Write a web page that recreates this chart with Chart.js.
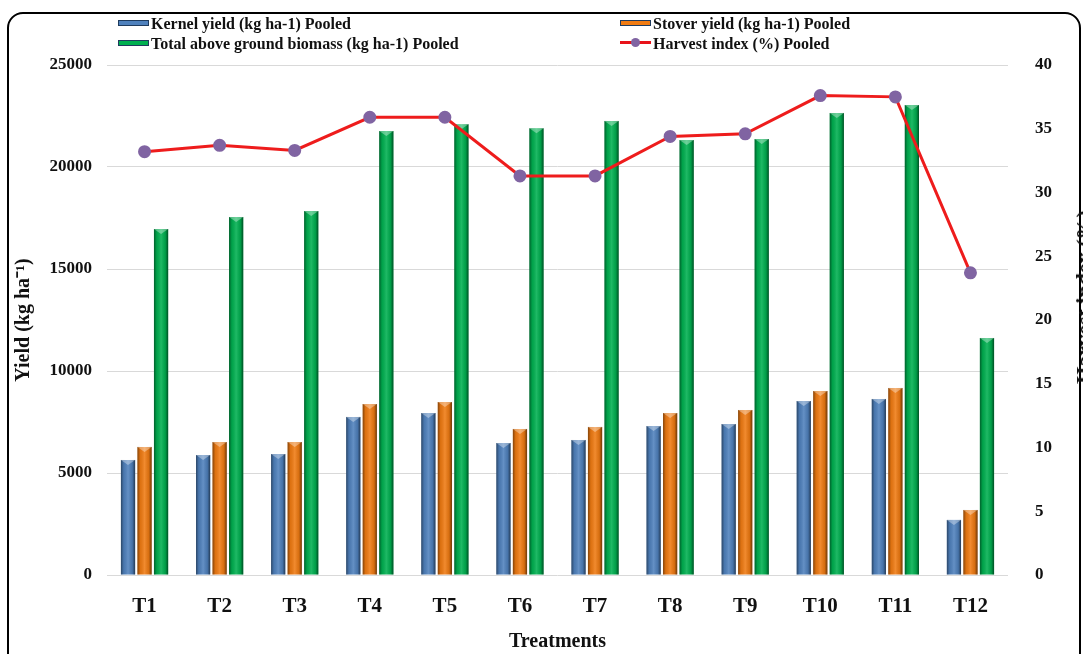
<!doctype html>
<html>

<head>
  <meta charset="utf-8" />
  <title>Yield and Harvest Index</title>
  <script src="https://cdn.jsdelivr.net/npm/chart.js"></script>
  <style>
    body {
      margin: 0;
      width: 1083px;
      height: 654px;
      overflow: hidden;
      background: #fff;
      position: relative;
      font-family: "Liberation Serif", "Times New Roman", serif;
    }

    .frame {
      position: absolute;
      left: 7px;
      top: 12px;
      width: 1074px;
      height: 680px;
      box-sizing: border-box;
      border: 2px solid #000;
      border-radius: 16px;
    }

    #chart {
      position: absolute;
      left: 0;
      top: 0;
    }

    .legend-item {
      position: absolute;
      font-weight: bold;
      font-size: 16px;
      line-height: 18px;
      color: #111;
      white-space: nowrap;
    }

    .legend-item .swatch {
      display: inline-block;
      position: relative;
      width: 31px;
      height: 6px;
      margin-right: 2px;
      vertical-align: 3px;
      border: 1px solid #1f3b5e;
      box-sizing: border-box;
    }

    .legend-item .line {
      border: none;
      height: 3px;
      background: #e8131a;
      vertical-align: 5px;
    }

    .legend-item .line::after {
      content: "";
      position: absolute;
      left: 11px;
      top: -3px;
      width: 9px;
      height: 9px;
      border-radius: 50%;
      background: #8064a2;
    }

    .right-title {
      position: absolute;
      left: 1084px;
      top: 297px;
      transform: translate(-50%, -50%) rotate(-90deg);
      font-weight: bold;
      font-size: 22px;
      white-space: nowrap;
      color: #111;
    }
  </style>
</head>

<body>
  <div class="frame"></div>
  <canvas id="chart" width="1083" height="654"></canvas>
  <div id="legend"></div>
  <div class="right-title">Harvest index (%)</div>

  <script>
    const treatments = ['T1', 'T2', 'T3', 'T4', 'T5', 'T6', 'T7', 'T8', 'T9', 'T10', 'T11', 'T12'];
    const kernelYield = [5640, 5880, 5930, 7750, 7940, 6470, 6620, 7300, 7400, 8530, 8630, 2700];
    const stoverYield = [6280, 6520, 6520, 8380, 8480, 7160, 7260, 7940, 8090, 9020, 9170, 3190];
    const totalBiomass = [16960, 17550, 17840, 21760, 22100, 21900, 22260, 21320, 21370, 22650, 23040, 11620];
    const harvestIndex = [33.2, 33.7, 33.3, 35.9, 35.9, 31.3, 31.3, 34.4, 34.6, 37.6, 37.5, 23.7];
    const seriesNames = [
      'Kernel yield (kg ha-1) Pooled',
      'Stover yield (kg ha-1) Pooled',
      'Total above ground biomass  (kg ha-1) Pooled',
      'Harvest index (%) Pooled'
    ];
    const yieldTicks = [0, 5000, 10000, 15000, 20000, 25000];
    const hiTicks = [0, 5, 10, 15, 20, 25, 30, 35, 40];

    const tickFont = { family: 'Liberation Serif', weight: 'bold', size: 17 };

    // shading so the bars look like the bevelled office-style columns
    const bevel = {
      id: 'bevel',
      afterDatasetDraw(chart, args) {
        const meta = args.meta;
        if (meta.type !== 'bar') return;
        const c = chart.ctx;
        c.save();
        meta.data.forEach(bar => {
          const w = bar.width, l = bar.x - w / 2, t = bar.y, b = bar.base;
          const g = c.createLinearGradient(l, 0, l + w, 0);
          g.addColorStop(0, 'rgba(0,0,0,0.45)');
          g.addColorStop(0.2, 'rgba(0,0,0,0.08)');
          g.addColorStop(0.5, 'rgba(255,255,255,0.12)');
          g.addColorStop(0.8, 'rgba(0,0,0,0.1)');
          g.addColorStop(1, 'rgba(0,0,0,0.55)');
          c.fillStyle = g;
          c.fillRect(l, t, w, b - t);
          c.fillStyle = 'rgba(255,255,255,0.35)';
          c.beginPath();
          c.moveTo(l, t);
          c.lineTo(l + w, t);
          c.lineTo(bar.x, t + 5);
          c.closePath();
          c.fill();
        });
        c.restore();
      }
    };

    const barOpts = { categoryPercentage: 0.66, barPercentage: 0.86, yAxisID: 'y', order: 1 };

    const chart = new Chart(document.getElementById('chart'), {
      data: {
        labels: treatments,
        datasets: [
          { type: 'bar', label: seriesNames[0], data: kernelYield, backgroundColor: '#4f81bd', ...barOpts },
          { type: 'bar', label: seriesNames[1], data: stoverYield, backgroundColor: '#f07b12', ...barOpts },
          { type: 'bar', label: seriesNames[2], data: totalBiomass, backgroundColor: '#00b050', ...barOpts },
          {
            type: 'line', label: seriesNames[3], data: harvestIndex, yAxisID: 'y1', order: 0,
            borderColor: '#ee1c1c', borderWidth: 3, pointRadius: 5, pointBackgroundColor: '#8064a2',
            pointBorderColor: '#8064a2', tension: 0
          }
        ]
      },
      options: {
        responsive: false,
        animation: false,
        devicePixelRatio: 1,
        layout: { padding: { top: 65, left: 0, right: 0, bottom: 0 } },
        plugins: { legend: { display: false }, tooltip: { enabled: false } },
        scales: {
          x: {
            grid: { display: false },
            border: { display: false },
            ticks: { color: '#111', font: { family: 'Liberation Serif', weight: 'bold', size: 21 }, padding: 11 },
            title: {
              display: true, text: 'Treatments', color: '#111',
              font: { family: 'Liberation Serif', weight: 'bold', size: 20 }, padding: { top: 0, bottom: 0 }
            },
            afterFit(s) { s.height = 79; }
          },
          y: {
            position: 'left',
            min: 0, max: 25000,
            afterBuildTicks(s) { s.ticks = yieldTicks.map(v => ({ value: v })); },
            grid: { color: '#d9d9d9', drawTicks: false },
            border: { display: false },
            ticks: { color: '#111', font: tickFont, padding: 15, callback: v => String(v) },
            title: {
              display: true, text: 'Yield (kg ha\u207B\u00B9)', color: '#111',
              font: { family: 'Liberation Serif', weight: 'bold', size: 20 }, padding: { top: 12, bottom: 0 }
            },
            afterFit(s) { s.width = 107; }
          },
          y1: {
            position: 'right',
            min: 0, max: 40,
            afterBuildTicks(s) { s.ticks = hiTicks.map(v => ({ value: v })); },
            grid: { display: false },
            border: { display: false },
            ticks: { color: '#111', font: tickFont, padding: 19, callback: v => String(v) },
            afterFit(s) { s.width = 75; }
          }
        }
      },
      plugins: [bevel]
    });

    // legend laid out in two columns like the reference
    const legendPos = [[118, 15], [620, 15], [118, 35], [620, 35]];
    const swatchColors = ['#4f81bd', '#f07b12', '#00b050'];
    const legend = document.getElementById('legend');
    seriesNames.forEach((name, i) => {
      const item = document.createElement('div');
      item.className = 'legend-item';
      item.style.left = legendPos[i][0] + 'px';
      item.style.top = legendPos[i][1] + 'px';
      const sw = document.createElement('span');
      sw.className = 'swatch' + (i === 3 ? ' line' : '');
      if (i < 3) sw.style.background = swatchColors[i];
      item.appendChild(sw);
      item.appendChild(document.createTextNode(name));
      legend.appendChild(item);
    });
  </script>
</body>

</html>
